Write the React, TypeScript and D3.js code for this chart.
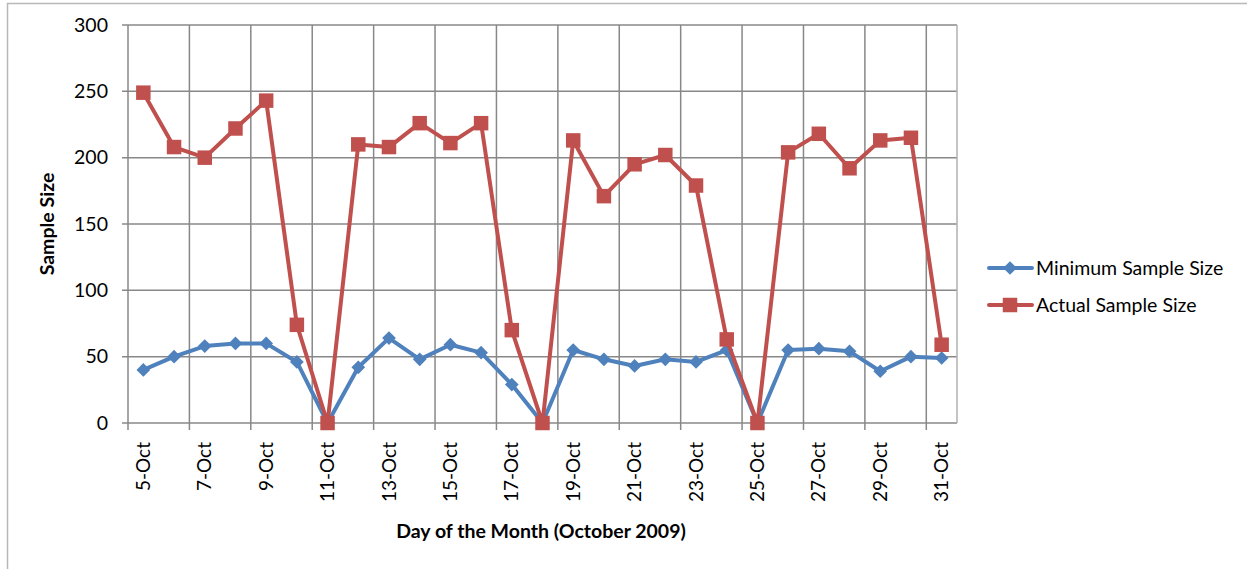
import { useRef, useEffect } from 'react';
import * as d3 from 'd3';

const DAYS = d3.range(5, 32).map((d) => `${d}-Oct`);
const MIN_SIZE = [40, 50, 58, 60, 60, 46, 0, 42, 64, 48, 59, 53, 29, 0, 55, 48, 43, 48, 46, 55, 0, 55, 56, 54, 39, 50, 49];
const ACTUAL_SIZE = [249, 208, 200, 222, 243, 74, 0, 210, 208, 226, 211, 226, 70, 0, 213, 171, 195, 202, 179, 63, 0, 204, 218, 192, 213, 215, 59];
const Y_TICKS = [0, 50, 100, 150, 200, 250, 300];
const SERIES_NAMES = ['Minimum Sample Size', 'Actual Sample Size'];

const WIDTH = 1247;
const HEIGHT = 569;
const PLOT = { left: 128, right: 957, top: 25, bottom: 423 };
const BLUE = '#4F81BD';
const RED = '#C0504D';
const GRID = '#888888';
const FONT = 'Lato, "Open Sans", sans-serif';

export default function App() {
  const svgRef = useRef<SVGSVGElement>(null);

  useEffect(() => {
    const svg = d3.select(svgRef.current);
    svg.selectAll('*').remove();

    const x = d3.scaleBand<string>().domain(DAYS).range([PLOT.left, PLOT.right]);
    const y = d3.scaleLinear().domain([0, 300]).range([PLOT.bottom, PLOT.top]);
    const cx = (d: string) => (x(d) ?? 0) + x.bandwidth() / 2;

    // outer chart border
    svg.append('path')
      .attr('d', `M7.5,${HEIGHT} V3.5 H${WIDTH}`)
      .attr('fill', 'none')
      .attr('stroke', '#b8b8b8')
      .attr('stroke-width', 1.5);

    // horizontal grid + y ticks
    const yAxis = svg.append('g');
    Y_TICKS.forEach((t) => {
      yAxis.append('line')
        .attr('x1', PLOT.left - 6).attr('x2', PLOT.right)
        .attr('y1', y(t)).attr('y2', y(t))
        .attr('stroke', GRID).attr('stroke-width', 1.5);
      yAxis.append('text')
        .attr('x', 108).attr('y', y(t))
        .attr('dy', '0.35em')
        .attr('text-anchor', 'end')
        .attr('font-family', FONT)
        .attr('font-size', 19.5)
        .attr('fill', '#000')
        .text(t);
    });

    // vertical grid every other day
    d3.range(0, DAYS.length + 1, 2).forEach((i) => {
      const gx = PLOT.left + i * x.step();
      svg.append('line')
        .attr('x1', gx).attr('x2', gx)
        .attr('y1', PLOT.top).attr('y2', PLOT.bottom + 7)
        .attr('stroke', GRID).attr('stroke-width', 1.5);
    });
    // right frame
    svg.append('line')
      .attr('x1', PLOT.right).attr('x2', PLOT.right)
      .attr('y1', PLOT.top).attr('y2', PLOT.bottom)
      .attr('stroke', '#b0b0b0').attr('stroke-width', 1.5);

    // x labels
    DAYS.forEach((d, i) => {
      if (i % 2 !== 0) return;
      svg.append('text')
        .attr('transform', `translate(${cx(d)},${PLOT.bottom + 19}) rotate(-90)`)
        .attr('dy', '0.35em')
        .attr('text-anchor', 'end')
        .attr('font-family', FONT)
        .attr('font-size', 19)
        .attr('fill', '#000')
        .text(d);
    });

    // axis titles
    svg.append('text')
      .attr('x', 541).attr('y', 538)
      .attr('text-anchor', 'middle')
      .attr('font-family', FONT)
      .attr('font-weight', 'bold')
      .attr('font-size', 19.5)
      .text('Day of the Month (October 2009)');
    svg.append('text')
      .attr('transform', `translate(47,${(PLOT.top + PLOT.bottom) / 2}) rotate(-90)`)
      .attr('dy', '0.35em')
      .attr('text-anchor', 'middle')
      .attr('font-family', FONT)
      .attr('font-weight', 'bold')
      .attr('font-size', 19.5)
      .text('Sample Size');

    const line = d3.line<number>()
      .x((_, i) => cx(DAYS[i]))
      .y((v) => y(v));

    const diamond = d3.symbol().type(d3.symbolDiamond2).size(120);
    const square = d3.symbol().type(d3.symbolSquare).size(210);

    // blue series
    svg.append('path')
      .attr('d', line(MIN_SIZE))
      .attr('fill', 'none')
      .attr('stroke', BLUE)
      .attr('stroke-width', 4)
      .attr('stroke-linejoin', 'round');
    svg.append('g').selectAll('path')
      .data(MIN_SIZE)
      .join('path')
      .attr('transform', (v, i) => `translate(${cx(DAYS[i])},${y(v)})`)
      .attr('d', diamond() as string)
      .attr('fill', BLUE);

    // red series
    svg.append('path')
      .attr('d', line(ACTUAL_SIZE))
      .attr('fill', 'none')
      .attr('stroke', RED)
      .attr('stroke-width', 4)
      .attr('stroke-linejoin', 'round');
    svg.append('g').selectAll('path')
      .data(ACTUAL_SIZE)
      .join('path')
      .attr('transform', (v, i) => `translate(${cx(DAYS[i])},${y(v)})`)
      .attr('d', square() as string)
      .attr('fill', RED);

    // legend
    const legend = svg.append('g');
    [BLUE, RED].forEach((c, i) => {
      const ly = 268 + i * 37;
      legend.append('line')
        .attr('x1', 989).attr('x2', 1032)
        .attr('y1', ly).attr('y2', ly)
        .attr('stroke', c).attr('stroke-width', 4)
        .attr('stroke-linecap', 'round');
      legend.append('path')
        .attr('transform', `translate(1010,${ly})`)
        .attr('d', (i === 0 ? diamond : square)() as string)
        .attr('fill', c);
      legend.append('text')
        .attr('x', 1036).attr('y', ly)
        .attr('dy', '0.35em')
        .attr('font-family', FONT)
        .attr('font-size', 19.5)
        .attr('fill', '#000')
        .text(SERIES_NAMES[i]);
    });
  }, []);

  return (
    <svg
      ref={svgRef}
      width={WIDTH}
      height={HEIGHT}
      style={{ position: 'absolute', left: 0, top: 0, background: '#fff' }}
    />
  );
}
